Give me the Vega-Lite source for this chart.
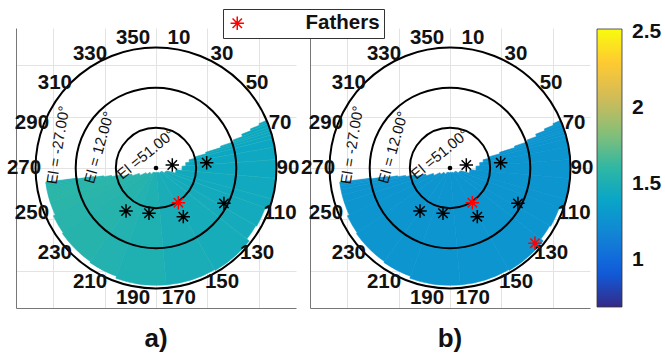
{
  "$schema": "https://vega.github.io/schema/vega-lite/v6.json",
  "autosize": {"type": "none"},
  "padding": {"left": 16, "top": 28, "right": 649, "bottom": 330},
  "bounds": "flush",
  "spacing": 14,
  "datasets": {
    "cells": [
      {"az1": 66.7, "az2": 67.5, "elInner": -18.8, "elOuter": -27, "va": 1.40, "vb": 1.28},
      {"az1": 67.5, "az2": 68.5, "elInner": -9.1, "elOuter": -27, "va": 1.40, "vb": 1.28},
      {"az1": 68.5, "az2": 70, "elInner": 0.6, "elOuter": -27, "va": 1.40, "vb": 1.28},
      {"az1": 70, "az2": 71.3, "elInner": 10.3, "elOuter": -27, "va": 1.41, "vb": 1.28},
      {"az1": 71.3, "az2": 72.5, "elInner": 23.9, "elOuter": -27, "va": 1.41, "vb": 1.28},
      {"az1": 72.5, "az2": 74, "elInner": 39.5, "elOuter": -27, "va": 1.41, "vb": 1.28},
      {"az1": 74, "az2": 76, "elInner": 51.1, "elOuter": -27, "va": 1.41, "vb": 1.28},
      {"az1": 76, "az2": 80, "elInner": 57.0, "elOuter": -27, "va": 1.41, "vb": 1.28},
      {"az1": 80, "az2": 86, "elInner": 60.9, "elOuter": -27, "va": 1.42, "vb": 1.28},
      {"az1": 86, "az2": 95, "elInner": 64.7, "elOuter": -27, "va": 1.43, "vb": 1.28},
      {"az1": 95, "az2": 105, "elInner": 70.6, "elOuter": -27, "va": 1.44, "vb": 1.28},
      {"az1": 105, "az2": 110, "elInner": 79.3, "elOuter": -27, "va": 1.44, "vb": 1.28},
      {"az1": 110, "az2": 120, "elInner": 80.3, "elOuter": -23, "va": 1.45, "vb": 1.28},
      {"az1": 120, "az2": 128, "elInner": 83.7, "elOuter": -22, "va": 1.46, "vb": 1.28},
      {"az1": 128, "az2": 150, "elInner": 84.2, "elOuter": -25, "va": 1.47, "vb": 1.28},
      {"az1": 150, "az2": 175, "elInner": 85.5, "elOuter": -24, "va": 1.49, "vb": 1.28},
      {"az1": 175, "az2": 200, "elInner": 85.5, "elOuter": -24, "va": 1.52, "vb": 1.28},
      {"az1": 200, "az2": 215, "elInner": 85.1, "elOuter": -22, "va": 1.54, "vb": 1.28},
      {"az1": 215, "az2": 235, "elInner": 82.7, "elOuter": -21, "va": 1.56, "vb": 1.28},
      {"az1": 235, "az2": 245, "elInner": 79.3, "elOuter": -20, "va": 1.57, "vb": 1.28},
      {"az1": 245, "az2": 252, "elInner": 73.0, "elOuter": -18, "va": 1.58, "vb": 1.28},
      {"az1": 252, "az2": 256, "elInner": 65.7, "elOuter": -18, "va": 1.59, "vb": 1.28},
      {"az1": 256, "az2": 259, "elInner": 56.0, "elOuter": -18, "va": 1.59, "vb": 1.28},
      {"az1": 259, "az2": 260.5, "elInner": 46.3, "elOuter": -18, "va": 1.59, "vb": 1.28},
      {"az1": 260.5, "az2": 261.5, "elInner": 38.5, "elOuter": -18, "va": 1.59, "vb": 1.28},
      {"az1": 261.5, "az2": 262.2, "elInner": 28.8, "elOuter": -18, "va": 1.59, "vb": 1.28},
      {"az1": 262.2, "az2": 262.7, "elInner": 12.3, "elOuter": -18, "va": 1.59, "vb": 1.28}
    ],
    "rings": [{"el": -27}, {"el": 12}, {"el": 51}],
    "ringLabels": [
      {"label": "El = -27.00°", "az": 283.2, "el": -7.8},
      {"label": "El = 12.00°", "az": 289.8, "el": 31.1},
      {"label": "El =51.00°", "az": 324.5, "el": 73.3}
    ],
    "azimuths": [
      {"az": 10}, {"az": 30}, {"az": 50}, {"az": 70}, {"az": 90}, {"az": 110},
      {"az": 130}, {"az": 150}, {"az": 170}, {"az": 190}, {"az": 210}, {"az": 230},
      {"az": 250}, {"az": 270}, {"az": 290}, {"az": 310}, {"az": 330}, {"az": 350}
    ],
    "zenith": [{"az": 0, "el": 90}],
    "stations": [
      {"az": 79.6, "el": 73.9},
      {"az": 84.1, "el": 40.5},
      {"az": 214.9, "el": 39.1},
      {"az": 188.8, "el": 45.5},
      {"az": 150.7, "el": 35.8},
      {"az": 117.5, "el": 15.6}
    ],
    "fathers": [
      {"who": "Fathers", "az": 147.2, "el": 49.9, "panels": "ab"},
      {"who": "Fathers", "az": 131.5, "el": -20.2, "panels": "b"}
    ]
  },
  "hconcat": [
    {
      "width": 280,
      "height": 280,
      "title": {"text": "a)", "orient": "bottom", "fontSize": 26, "fontWeight": "bold", "offset": 18, "color": "#111"},
      "layer": [
        {
          "data": {"name": "cells"},
          "mark": {"type": "arc", "stroke": "#1caeb5", "strokeWidth": 0.6},
          "encoding": {
            "theta": {"field": "az1", "type": "quantitative", "stack": null, "scale": {"domain": [0, 360], "range": [0, 6.283185307179586], "nice": false, "zero": false}},
            "theta2": {"field": "az2"},
            "radius": {"field": "elOuter", "type": "quantitative", "stack": null, "scale": {"type": "linear", "domain": [90, -27], "range": [0, 120.44], "nice": false, "zero": false}},
            "radius2": {"field": "elInner"},
            "color": {"field": "va", "type": "quantitative",
              "scale": {"type": "linear", "domain": [0.69, 2.52], "nice": false, "zero": false, "interpolate": "rgb",
                "range": ["#352a87", "#0f5cdd", "#1481d6", "#06a4ca", "#2eb7a4", "#87bf77", "#d1bb59", "#fec832", "#f9fb0e"]},
              "legend": {"type": "gradient", "title": null, "orient": "none", "legendX": 581, "legendY": 1, "direction": "vertical", "gradientLength": 278, "gradientThickness": 25, "values": [1, 1.5, 2, 2.5], "format": "~g", "labelOffset": 10, "labelFontSize": 21, "labelFontWeight": "bold", "labelColor": "#111", "labelOverlap": false, "gradientStrokeColor": "#333", "gradientStrokeWidth": 0.8, "padding": 0}}
          }
        },
        {
          "data": {"name": "rings"},
          "mark": {"type": "arc", "filled": false, "stroke": "black", "strokeWidth": 2},
          "encoding": {
            "theta": {"value": 0},
            "theta2": {"value": 6.283185307179586},
            "radius": {"field": "el", "type": "quantitative", "stack": null}
          }
        },
        {
          "data": {"name": "ringLabels"},
          "mark": {"type": "text", "fontSize": 15, "color": "#111"},
          "encoding": {
            "theta": {"field": "az", "type": "quantitative", "stack": null},
            "radius": {"field": "el", "type": "quantitative", "stack": null},
            "angle": {"field": "az", "type": "quantitative", "scale": {"domain": [0, 360], "range": [-364, -4]}},
            "text": {"field": "label"}
          }
        },
        {
          "data": {"name": "azimuths"},
          "mark": {"type": "text", "fontSize": 20.5, "fontWeight": "bold", "color": "#111"},
          "encoding": {
            "theta": {"field": "az", "type": "quantitative", "stack": null},
            "radius": {"value": 132},
            "text": {"field": "az", "type": "quantitative"}
          }
        },
        {
          "data": {"name": "zenith"},
          "transform": [
            {"calculate": "(90 - datum.el) * sin(datum.az * PI / 180)", "as": "east"},
            {"calculate": "(90 - datum.el) * cos(datum.az * PI / 180)", "as": "north"}
          ],
          "mark": {"type": "point", "filled": true, "color": "black", "size": 22, "opacity": 1},
          "encoding": {
            "x": {"field": "east", "type": "quantitative", "scale": {"domain": [-136, 136], "nice": false, "zero": false}, "axis": {"title": null, "labels": false, "ticks": false, "grid": true, "values": [-100, -50, 0, 50, 100]}},
            "y": {"field": "north", "type": "quantitative", "scale": {"domain": [-136, 136], "nice": false, "zero": false}, "axis": {"title": null, "labels": false, "ticks": false, "grid": true, "values": [-100, -50, 0, 50, 100]}}
          }
        },
        {
          "data": {"name": "stations"},
          "transform": [
            {"calculate": "(90 - datum.el) * sin(datum.az * PI / 180)", "as": "east"},
            {"calculate": "(90 - datum.el) * cos(datum.az * PI / 180)", "as": "north"}
          ],
          "mark": {"type": "point", "shape": "M-1,0L1,0M0,-1L0,1M-0.7,-0.7L0.7,0.7M-0.7,0.7L0.7,-0.7", "size": 180, "filled": false, "color": "black", "strokeWidth": 1.5, "opacity": 1},
          "encoding": {
            "x": {"field": "east", "type": "quantitative"},
            "y": {"field": "north", "type": "quantitative"}
          }
        },
        {
          "data": {"name": "fathers"},
          "transform": [
            {"filter": "indexof(datum.panels, 'a') >= 0"},
            {"calculate": "(90 - datum.el) * sin(datum.az * PI / 180)", "as": "east"},
            {"calculate": "(90 - datum.el) * cos(datum.az * PI / 180)", "as": "north"}
          ],
          "mark": {"type": "point", "size": 180, "filled": false, "color": "#ff0000", "strokeWidth": 1.5, "opacity": 1},
          "encoding": {
            "x": {"field": "east", "type": "quantitative"},
            "y": {"field": "north", "type": "quantitative"},
            "shape": {"field": "who", "type": "nominal",
              "scale": {"range": ["M-1,0L1,0M0,-1L0,1M-0.7,-0.7L0.7,0.7M-0.7,0.7L0.7,-0.7"]},
              "legend": {"title": null, "orient": "none", "legendX": 207, "legendY": -19, "padding": 4, "strokeColor": "#333", "fillColor": "white", "symbolSize": 180, "labelOffset": 58, "symbolStrokeColor": "#ff0000", "symbolStrokeWidth": 1.5, "symbolFillColor": "transparent", "labelFontSize": 20.5, "labelFontWeight": "bold", "labelColor": "#111"}}
          }
        }
      ]
    },
    {
      "width": 280,
      "height": 280,
      "title": {"text": "b)", "orient": "bottom", "fontSize": 26, "fontWeight": "bold", "offset": 18, "color": "#111"},
      "layer": [
        {
          "data": {"name": "cells"},
          "mark": {"type": "arc", "stroke": "#0c94d0", "strokeWidth": 0.6},
          "encoding": {
            "theta": {"field": "az1", "type": "quantitative", "stack": null, "scale": {"domain": [0, 360], "range": [0, 6.283185307179586], "nice": false, "zero": false}},
            "theta2": {"field": "az2"},
            "radius": {"field": "elOuter", "type": "quantitative", "stack": null, "scale": {"type": "linear", "domain": [90, -27], "range": [0, 120.44], "nice": false, "zero": false}},
            "radius2": {"field": "elInner"},
            "color": {"field": "vb", "type": "quantitative",
              "scale": {"type": "linear", "domain": [0.69, 2.52], "nice": false, "zero": false, "interpolate": "rgb",
                "range": ["#352a87", "#0f5cdd", "#1481d6", "#06a4ca", "#2eb7a4", "#87bf77", "#d1bb59", "#fec832", "#f9fb0e"]},
              "legend": {"type": "gradient", "title": null, "orient": "none", "legendX": 581, "legendY": 1, "direction": "vertical", "gradientLength": 278, "gradientThickness": 25, "values": [1, 1.5, 2, 2.5], "format": "~g", "labelOffset": 10, "labelFontSize": 21, "labelFontWeight": "bold", "labelColor": "#111", "labelOverlap": false, "gradientStrokeColor": "#333", "gradientStrokeWidth": 0.8, "padding": 0}}
          }
        },
        {
          "data": {"name": "rings"},
          "mark": {"type": "arc", "filled": false, "stroke": "black", "strokeWidth": 2},
          "encoding": {
            "theta": {"value": 0},
            "theta2": {"value": 6.283185307179586},
            "radius": {"field": "el", "type": "quantitative", "stack": null}
          }
        },
        {
          "data": {"name": "ringLabels"},
          "mark": {"type": "text", "fontSize": 15, "color": "#111"},
          "encoding": {
            "theta": {"field": "az", "type": "quantitative", "stack": null},
            "radius": {"field": "el", "type": "quantitative", "stack": null},
            "angle": {"field": "az", "type": "quantitative", "scale": {"domain": [0, 360], "range": [-364, -4]}},
            "text": {"field": "label"}
          }
        },
        {
          "data": {"name": "azimuths"},
          "mark": {"type": "text", "fontSize": 20.5, "fontWeight": "bold", "color": "#111"},
          "encoding": {
            "theta": {"field": "az", "type": "quantitative", "stack": null},
            "radius": {"value": 132},
            "text": {"field": "az", "type": "quantitative"}
          }
        },
        {
          "data": {"name": "zenith"},
          "transform": [
            {"calculate": "(90 - datum.el) * sin(datum.az * PI / 180)", "as": "east"},
            {"calculate": "(90 - datum.el) * cos(datum.az * PI / 180)", "as": "north"}
          ],
          "mark": {"type": "point", "filled": true, "color": "black", "size": 22, "opacity": 1},
          "encoding": {
            "x": {"field": "east", "type": "quantitative", "scale": {"domain": [-136, 136], "nice": false, "zero": false}, "axis": {"title": null, "labels": false, "ticks": false, "grid": true, "values": [-100, -50, 0, 50, 100]}},
            "y": {"field": "north", "type": "quantitative", "scale": {"domain": [-136, 136], "nice": false, "zero": false}, "axis": {"title": null, "labels": false, "ticks": false, "grid": true, "values": [-100, -50, 0, 50, 100]}}
          }
        },
        {
          "data": {"name": "stations"},
          "transform": [
            {"calculate": "(90 - datum.el) * sin(datum.az * PI / 180)", "as": "east"},
            {"calculate": "(90 - datum.el) * cos(datum.az * PI / 180)", "as": "north"}
          ],
          "mark": {"type": "point", "shape": "M-1,0L1,0M0,-1L0,1M-0.7,-0.7L0.7,0.7M-0.7,0.7L0.7,-0.7", "size": 180, "filled": false, "color": "black", "strokeWidth": 1.5, "opacity": 1},
          "encoding": {
            "x": {"field": "east", "type": "quantitative"},
            "y": {"field": "north", "type": "quantitative"}
          }
        },
        {
          "data": {"name": "fathers"},
          "transform": [
            {"filter": "indexof(datum.panels, 'b') >= 0"},
            {"calculate": "(90 - datum.el) * sin(datum.az * PI / 180)", "as": "east"},
            {"calculate": "(90 - datum.el) * cos(datum.az * PI / 180)", "as": "north"}
          ],
          "mark": {"type": "point", "size": 180, "filled": false, "color": "#ff0000", "strokeWidth": 1.5, "opacity": 1},
          "encoding": {
            "x": {"field": "east", "type": "quantitative"},
            "y": {"field": "north", "type": "quantitative"},
            "shape": {"field": "who", "type": "nominal",
              "scale": {"range": ["M-1,0L1,0M0,-1L0,1M-0.7,-0.7L0.7,0.7M-0.7,0.7L0.7,-0.7"]},
              "legend": {"title": null, "orient": "none", "legendX": 207, "legendY": -19, "padding": 4, "strokeColor": "#333", "fillColor": "white", "symbolSize": 180, "labelOffset": 58, "symbolStrokeColor": "#ff0000", "symbolStrokeWidth": 1.5, "symbolFillColor": "transparent", "labelFontSize": 20.5, "labelFontWeight": "bold", "labelColor": "#111"}}
          }
        }
      ]
    }
  ],
  "config": {
    "font": "Liberation Sans",
    "view": {"stroke": null},
    "axis": {"domainColor": "#777777", "domainWidth": 1, "gridColor": "#e3e3e3", "gridWidth": 1},
    "title": {"font": "Liberation Sans"},
    "legend": {"labelFont": "Liberation Sans", "labelFontWeight": "bold"}
  }
}
